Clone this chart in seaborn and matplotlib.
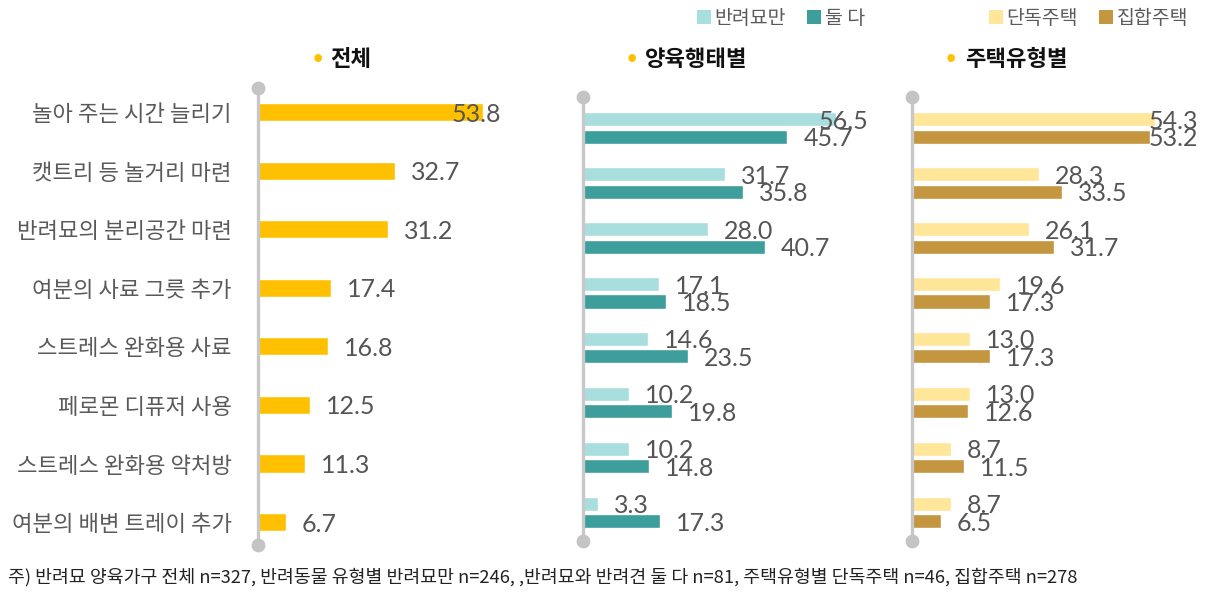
import pandas as pd
import seaborn as sns
import matplotlib.pyplot as plt
from matplotlib.patches import Patch

# data
categories = ['놀아 주는 시간 늘리기', '캣트리 등 놀거리 마련', '반려묘의 분리공간 마련',
              '여분의 사료 그릇 추가', '스트레스 완화용 사료', '페로몬 디퓨저 사용',
              '스트레스 완화용 약처방', '여분의 배변 트레이 추가']
total = [53.8, 32.7, 31.2, 17.4, 16.8, 12.5, 11.3, 6.7]
cat_only = [56.5, 31.7, 28.0, 17.1, 14.6, 10.2, 10.2, 3.3]
cat_dog = [45.7, 35.8, 40.7, 18.5, 23.5, 19.8, 14.8, 17.3]
detached = [54.3, 28.3, 26.1, 19.6, 13.0, 13.0, 8.7, 8.7]
apartment = [53.2, 33.5, 31.7, 17.3, 17.3, 12.6, 11.5, 6.5]
titles = ['전체', '양육행태별', '주택유형별']
legend_care = ['반려묘만', '둘 다']
legend_house = ['단독주택', '집합주택']
note = ('주) 반려묘 양육가구 전체 n=327, 반려동물 유형별 반려묘만 n=246, ,반려묘와 반려견 둘 다 n=81, '
        '주택유형별 단독주택 n=46, 집합주택 n=278')

FONT = ['Noto Sans CJK KR', 'DejaVu Sans']
NUMFONT = ['Lato', 'Noto Sans CJK KR', 'DejaVu Sans']
sns.set_theme(style='white')
plt.rcParams['font.family'] = FONT

W, H = 1206, 596
fig = plt.figure(figsize=(W / 100, H / 100), dpi=100)


def rect(x0, y0, x1, y1):
    return [x0 / W, 1 - y1 / H, (x1 - x0) / W, (y1 - y0) / H]


YEL = '#FFC000'
TEAL_L, TEAL_D = '#A8DEDD', '#3E9E9B'
GOLD_L, GOLD_D = '#FFE699', '#C4963F'
GREY = '#5a5a5a'


def style_axis(ax, xmax, ylim):
    ax.set_xlim(0, xmax)
    ax.set_ylim(*ylim)
    for s in ['top', 'right', 'bottom']:
        ax.spines[s].set_visible(False)
    ax.spines['left'].set_color('#c8c8c8')
    ax.spines['left'].set_linewidth(2.4)
    ax.set_xticks([])
    ax.set_xlabel('')
    ax.set_ylabel('')
    ax.tick_params(axis='y', length=0)
    ax.scatter([0, 0], list(ylim), s=80, color='#c4c4c4', clip_on=False, zorder=5)


def value_labels(ax, off, cap):
    for cont in ax.containers:
        for bar in cont:
            w = bar.get_width()
            ax.text(min(w + off, cap), bar.get_y() + bar.get_height() / 2, f'{w:.1f}',
                    ha='left', va='center_baseline', fontsize=18, color='#555555',
                    family=NUMFONT, fontweight='normal', zorder=6)


# panel 1
ax1 = fig.add_axes(rect(258, 88, 560, 545))
df1 = pd.DataFrame({'cat': categories, 'v': total})
sns.barplot(data=df1, x='v', y='cat', orient='h', color=YEL, saturation=1,
            width=0.31, ax=ax1)
style_axis(ax1, 302 / 4.18, (7.39, -0.41))
ax1.tick_params(axis='y', pad=19, labelsize=16, labelcolor=GREY)
value_labels(ax1, 16 / 4.18, 46.4)

# panel 2
ax2 = fig.add_axes(rect(583, 97, 895, 541))
df2 = pd.DataFrame({'cat': categories * 2, 'v': cat_only + cat_dog,
                    'g': [legend_care[0]] * 8 + [legend_care[1]] * 8})
sns.barplot(data=df2, x='v', y='cat', hue='g', orient='h', palette=[TEAL_L, TEAL_D],
            saturation=1, width=0.634, gap=0.19, legend=False, ax=ax2)
style_axis(ax2, 312 / 4.47, (7.52, -0.565))
ax2.set_yticklabels([])
value_labels(ax2, 16 / 4.47, 52.6)

# panel 3
ax3 = fig.add_axes(rect(912, 97, 1206, 541))
df3 = pd.DataFrame({'cat': categories * 2, 'v': detached + apartment,
                    'g': [legend_house[0]] * 8 + [legend_house[1]] * 8})
sns.barplot(data=df3, x='v', y='cat', hue='g', orient='h', palette=[GOLD_L, GOLD_D],
            saturation=1, width=0.634, gap=0.19, legend=False, ax=ax3)
style_axis(ax3, 294 / 4.48, (7.52, -0.565))
ax3.set_yticklabels([])
value_labels(ax3, 16 / 4.48, 52.7)

# panel titles
for (xd, xt), t in zip([(318, 330), (632, 645), (951, 965)], titles):
    fig.text(xd / W, 1 - 58 / H, '•', color=YEL, fontsize=22, ha='center', va='center')
    fig.text(xt / W, 1 - 60 / H, t, color='#111111', fontsize=16, fontweight='bold',
             ha='left', va='center')

# legends
for x0, labs, cols in [(697, legend_care, [TEAL_L, TEAL_D]),
                       (989, legend_house, [GOLD_L, GOLD_D])]:
    handles = [Patch(facecolor=c, edgecolor='none') for c in cols]
    fig.legend(handles, labs, ncol=2, loc='center left',
               bbox_to_anchor=(x0 / W, 1 - 18 / H), frameon=False,
               handlelength=0.7, handleheight=0.7, handletextpad=0.2,
               columnspacing=1.1, borderpad=0, borderaxespad=0,
               prop={'family': FONT, 'size': 14}, labelcolor=GREY)

fig.text(8 / W, 1 - 577 / H, note, fontsize=13.2, color='#222222', ha='left', va='center')

fig.savefig('out.png', dpi=100)
